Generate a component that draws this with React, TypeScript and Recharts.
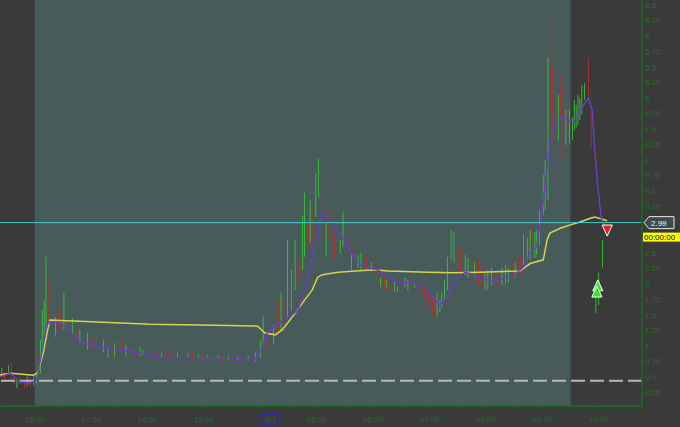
import React from 'react';
import { ComposedChart, Bar, Cell, Line, Scatter, XAxis, YAxis, ReferenceLine, ReferenceArea } from 'recharts';

// t = minutes since 15:23, overnight gap removed (20:00 and 04:00 share t = 277)
// each bar: [t, low, high, up(1) / down(0)]
type BarRow = [number, number, number, number];

const closeBars: BarRow[] = [
  [2, 0.52, 0.65, 1], [5, 0.45, 0.58, 0], [9, 0.58, 0.69, 1], [12, 0.45, 0.73, 0], [15, 0.37, 0.53, 0],
  [18, 0.32, 0.48, 1], [21, 0.37, 0.56, 0], [26, 0.32, 0.45, 0], [29, 0.36, 0.52, 1], [32, 0.34, 0.48, 0],
  [36, 0.36, 0.55, 1],
];

const afterHoursBars: BarRow[] = [
  [39, 0.39, 0.58, 1], [43, 0.56, 1.1, 1], [45, 0.94, 1.58, 1], [47, 1.02, 1.74, 1], [49, 1.1, 2.44, 1],
  [52, 1.42, 2.07, 0], [55, 1.47, 1.74, 0], [59, 1.15, 1.47, 1], [62, 1.26, 1.55, 0], [65, 1.26, 1.61, 0],
  [68, 1.26, 1.86, 1], [72, 1.15, 1.42, 0], [77, 1.18, 1.45, 1], [81, 1.05, 1.26, 0], [85, 1.05, 1.26, 1],
  [89, 0.97, 1.21, 0], [93, 0.94, 1.21, 1], [98, 0.94, 1.16, 0], [104, 0.98, 1.26, 0], [110, 0.9, 1.1, 1],
  [115, 0.81, 0.98, 1], [119, 0.85, 1.06, 0], [122, 0.82, 1.05, 1], [127, 0.84, 1.02, 0], [130, 0.89, 1.15, 0],
  [134, 0.84, 1.02, 1], [138, 0.85, 0.98, 0], [144, 0.82, 0.97, 0], [149, 0.84, 0.97, 1], [152, 0.85, 0.94, 1],
  [157, 0.81, 0.94, 0], [162, 0.82, 0.89, 0], [167, 0.81, 0.9, 0], [172, 0.81, 0.9, 1], [179, 0.82, 0.94, 0],
  [184, 0.81, 0.89, 0], [189, 0.82, 0.9, 1], [195, 0.81, 0.87, 0], [200, 0.81, 0.89, 1], [205, 0.79, 0.9, 0],
  [211, 0.81, 0.87, 1], [216, 0.79, 0.87, 0], [221, 0.79, 0.85, 1], [227, 0.77, 0.85, 0], [232, 0.79, 0.85, 1],
  [237, 0.77, 0.84, 0], [243, 0.77, 0.85, 1], [248, 0.76, 0.84, 0], [253, 0.77, 0.84, 1], [259, 0.76, 0.82, 0],
  [264, 0.76, 0.84, 1], [268, 0.74, 0.82, 0], [272, 0.74, 0.9, 1],
];

const preMarketBars: BarRow[] = [
  [277, 0.81, 1.1, 1], [280, 1.02, 1.47, 1], [283, 0.94, 1.26, 0], [287, 0.94, 1.18, 0], [291, 1.02, 1.34, 1],
  [296, 1.18, 1.74, 0], [299, 1.26, 1.86, 1], [302, 1.34, 1.74, 0], [306, 1.47, 2.71, 1], [310, 1.58, 2.23, 1],
  [314, 1.9, 2.71, 1], [317, 1.98, 2.47, 0], [319, 2.07, 2.39, 0], [322, 2.23, 3.11, 1], [324, 2.44, 3.47, 1],
  [328, 2.66, 2.98, 0], [330, 2.66, 3.35, 1], [333, 2.55, 3.19, 0], [336, 3.08, 3.79, 1], [339, 3.4, 4.03, 1],
  [344, 3.08, 3.68, 0], [347, 2.44, 2.98, 1], [350, 2.71, 3.19, 0], [353, 2.76, 3.08, 0], [356, 2.39, 2.82, 0],
  [359, 2.31, 2.79, 0], [362, 2.5, 2.71, 1], [365, 2.6, 3.16, 1], [368, 2.6, 2.76, 0], [372, 2.44, 2.71, 0],
  [374, 2.23, 2.47, 1], [378, 2.35, 2.63, 0], [381, 2.26, 2.47, 1], [384, 2.23, 2.5, 1], [387, 2.26, 2.47, 0],
  [390, 2.23, 2.44, 0], [395, 2.19, 2.35, 1], [399, 2.15, 2.35, 0], [402, 1.9, 2.23, 0], [405, 1.95, 2.11, 1],
  [409, 1.9, 2.15, 0], [411, 1.95, 2.07, 1], [414, 1.87, 2.07, 0], [417, 1.86, 2.02, 0], [420, 1.87, 2.03, 1],
  [423, 1.86, 1.95, 1], [427, 1.84, 2.0, 0], [431, 1.95, 2.11, 1], [434, 1.9, 2.07, 1], [436, 1.95, 2.07, 0],
  [441, 1.94, 2.02, 1], [446, 1.9, 2.02, 0], [449, 1.81, 1.98, 0], [452, 1.74, 1.95, 0], [456, 1.66, 1.9, 0],
  [460, 1.47, 1.79, 0], [463, 1.45, 1.74, 0], [465, 1.47, 1.86, 1], [468, 1.55, 1.74, 1], [470, 1.63, 1.86, 1],
  [473, 1.74, 2.07, 1], [476, 1.9, 2.44, 1], [480, 2.39, 2.87, 1], [483, 2.35, 2.84, 1], [487, 2.23, 2.63, 0],
  [490, 2.19, 2.55, 0], [495, 2.15, 2.47, 1], [498, 2.1, 2.42, 1], [502, 2.07, 2.35, 0], [505, 2.11, 2.35, 1],
  [509, 1.98, 2.39, 0], [513, 1.95, 2.26, 0], [516, 1.9, 2.19, 1], [519, 1.9, 2.23, 1], [523, 1.97, 2.26, 1],
  [527, 1.98, 2.23, 0], [531, 1.94, 2.19, 0], [534, 1.98, 2.26, 1], [538, 2.0, 2.31, 1], [541, 2.03, 2.26, 1],
  [545, 2.07, 2.35, 0], [548, 2.1, 2.35, 1], [551, 2.15, 2.47, 0], [554, 2.13, 2.42, 0], [557, 2.31, 2.79, 1],
  [561, 2.35, 2.74, 1], [564, 2.39, 2.87, 1], [566, 2.55, 2.95, 0], [569, 2.42, 2.84, 1], [571, 2.47, 2.87, 1],
  [572, 2.82, 3.24, 0], [574, 2.63, 3.19, 1], [578, 3.11, 3.76, 1], [580, 3.19, 4.0, 1], [583, 3.35, 5.65, 1],
  [585, 4.81, 6.26, 0], [588, 4.32, 5.5, 0], [591, 4.32, 5.29, 0], [594, 4.32, 5.05, 1], [596, 4.65, 5.37, 0],
  [599, 4.0, 5.24, 0], [602, 4.24, 4.81, 1], [604, 4.4, 4.97, 0], [606, 4.27, 4.81, 1],
];

const openBars: BarRow[] = [
  [609, 4.32, 4.68, 1], [611, 4.48, 4.97, 1], [613, 4.52, 4.89, 1], [615, 4.57, 5.05, 1], [617, 4.65, 5.0, 1],
  [619, 4.73, 5.21, 1], [622, 4.97, 5.24, 1], [626, 5.05, 5.65, 0], [629, 4.19, 4.81, 0], [634, 1.53, 1.98, 1],
  [637, 1.66, 2.18, 1], [641, 2.27, 2.71, 1],
];

// moving average of the close (purple)
const maLine = [
  { t: 0, v: 0.5 }, { t: 11, v: 0.56 }, { t: 21, v: 0.42 }, { t: 32, v: 0.4 }, { t: 39, v: 0.45 },
  { t: 45, v: 0.94 }, { t: 50, v: 1.34 }, { t: 53, v: 1.39 }, { t: 64, v: 1.37 }, { t: 71, v: 1.31 },
  { t: 82, v: 1.1 }, { t: 96, v: 1.02 }, { t: 106, v: 0.98 }, { t: 128, v: 0.94 }, { t: 149, v: 0.89 },
  { t: 170, v: 0.82 }, { t: 213, v: 0.81 }, { t: 245, v: 0.81 }, { t: 271, v: 0.77 }, { t: 279, v: 0.97 },
  { t: 285, v: 1.23 }, { t: 296, v: 1.37 }, { t: 306, v: 1.45 }, { t: 317, v: 1.58 }, { t: 324, v: 1.9 },
  { t: 328, v: 2.11 }, { t: 333, v: 2.55 }, { t: 338, v: 2.82 }, { t: 343, v: 3.16 }, { t: 353, v: 2.98 },
  { t: 367, v: 2.71 }, { t: 378, v: 2.39 }, { t: 388, v: 2.27 }, { t: 402, v: 2.23 }, { t: 413, v: 2.11 },
  { t: 423, v: 2.02 }, { t: 438, v: 2.02 }, { t: 452, v: 1.95 }, { t: 463, v: 1.74 }, { t: 468, v: 1.66 },
  { t: 476, v: 1.79 }, { t: 484, v: 2.07 }, { t: 495, v: 2.19 }, { t: 505, v: 2.15 }, { t: 516, v: 2.07 },
  { t: 527, v: 2.03 }, { t: 537, v: 2.1 }, { t: 548, v: 2.15 }, { t: 559, v: 2.31 }, { t: 564, v: 2.5 },
  { t: 571, v: 2.6 }, { t: 578, v: 3.35 }, { t: 583, v: 4.0 }, { t: 587, v: 4.43 }, { t: 593, v: 4.64 },
  { t: 599, v: 4.69 }, { t: 610, v: 4.6 }, { t: 620, v: 4.86 }, { t: 626, v: 5.0 }, { t: 630, v: 4.81 },
  { t: 633, v: 4.11 }, { t: 636, v: 3.56 }, { t: 640, v: 3.03 }, { t: 644, v: 2.92 },
];

// vwap (yellow)
const vwapLine = [
  { t: 0, v: 0.53 }, { t: 11, v: 0.56 }, { t: 21, v: 0.55 }, { t: 35, v: 0.53 }, { t: 40, v: 0.56 },
  { t: 46, v: 0.89 }, { t: 50, v: 1.21 }, { t: 53, v: 1.42 }, { t: 85, v: 1.4 }, { t: 160, v: 1.35 },
  { t: 213, v: 1.34 }, { t: 274, v: 1.32 }, { t: 282, v: 1.21 }, { t: 293, v: 1.18 }, { t: 300, v: 1.26 },
  { t: 306, v: 1.37 }, { t: 314, v: 1.53 }, { t: 324, v: 1.74 }, { t: 332, v: 1.9 }, { t: 338, v: 2.11 },
  { t: 343, v: 2.15 }, { t: 360, v: 2.19 }, { t: 378, v: 2.21 }, { t: 399, v: 2.23 }, { t: 413, v: 2.21 },
  { t: 455, v: 2.19 }, { t: 484, v: 2.18 }, { t: 511, v: 2.19 }, { t: 553, v: 2.21 }, { t: 564, v: 2.33 },
  { t: 578, v: 2.39 }, { t: 582, v: 2.71 }, { t: 585, v: 2.82 }, { t: 596, v: 2.9 }, { t: 606, v: 2.95 },
  { t: 617, v: 3.0 }, { t: 628, v: 3.06 }, { t: 633, v: 3.08 }, { t: 646, v: 3.02 },
];

const sellSignals = [{ t: 646, v: 2.87 }];
const buySignals = [{ t: 636, v: 1.97 }, { t: 635, v: 1.87 }];

const lastPrice = 2.99;
const stopLevel = 0.44;
const extendedStart = 37; // 16:00
const extendedEnd = 607; // 09:30

// 3 and 2.75 sit under the price tag / countdown box, so they are not drawn
const priceTicks = [
  0.25, 0.5, 0.75, 1, 1.25, 1.5, 1.75, 2, 2.25, 2.5, 3.25,
  3.5, 3.75, 4, 4.25, 4.5, 4.75, 5, 5.25, 5.5, 5.75, 6, 6.25, 6.5,
];
const timeTicks = [7, 37, 67, 97, 127, 157, 187, 217, 247, 277, 307, 337, 367, 397, 427, 457, 487, 517, 547, 577, 607, 637];
const timeLabels = [
  '', '16:00', '', '17:00', '', '18:00', '', '19:00', '', '9/3', '', '05:00',
  '', '06:00', '', '07:00', '', '08:00', '', '09:00', '', '10:00',
];

const BG = '#3a3a3a';
const SHADE = '#475b5b';
const AXIS = '#1d6b1d';
const AXIS_TEXT = '#237023';
const UP = '#35cc35';
const DOWN = '#c42a2a';

function TimeTick({ x, payload }: any) {
  const label = timeLabels[timeTicks.indexOf(payload.value)];
  if (!label) return null;
  if (label.includes('/')) {
    return (
      <g>
        <rect x={x + 1} y={414} width={18} height={10} fill="none" stroke="#2a2ad0" strokeWidth={1.5} />
        <text x={x + 5} y={422} fill={AXIS_TEXT} fontSize={8}>{label}</text>
      </g>
    );
  }
  return (
    <text x={x} y={422} textAnchor="middle" fill={AXIS_TEXT} fontSize={8}>{label}</text>
  );
}

function PriceTag(props: any) {
  const vb = props.viewBox || {};
  const x = vb.x + vb.width;
  const y = vb.y;
  return (
    <g>
      <polygon
        points={`${x + 2},${y} ${x + 7},${y - 6} ${x + 32},${y - 6} ${x + 32},${y + 6} ${x + 7},${y + 6}`}
        fill="#3d4b4b"
        stroke="#e6e6e6"
        strokeWidth={1}
      />
      <text x={x + 9} y={y + 3} fill="#f2f2f2" fontSize={8}>{lastPrice.toFixed(2)}</text>
      <rect x={x + 1} y={y + 10} width={37} height={9} fill="#ffff00" />
      <text x={x + 2} y={y + 17.5} fill="#000" fontSize={8}>00:00:00</text>
    </g>
  );
}

const SellShape = ({ cx, cy }: any) => (
  <polygon points={`${cx - 5},${cy - 5} ${cx + 5},${cy - 5} ${cx},${cy + 6}`} fill="#e02020" stroke="#ffffff" strokeWidth={1} />
);
const BuyShape = ({ cx, cy }: any) => (
  <polygon points={`${cx - 5},${cy + 5} ${cx + 5},${cy + 5} ${cx},${cy - 6}`} fill="#2ee82e" stroke="#ffffff" strokeWidth={1} />
);

export default function App() {
  const data = [...closeBars, ...afterHoursBars, ...preMarketBars, ...openBars].map(([t, lo, hi, up]) => ({
    t,
    range: [lo, hi],
    up,
  }));

  return (
    <div
      style={{
        position: 'absolute',
        left: 0,
        top: 0,
        width: 680,
        height: 427,
        background: BG,
        fontFamily: '"Liberation Sans", Arial, sans-serif',
      }}
    >
      <ComposedChart width={680} height={427} data={data} margin={{ top: 0, right: 0, bottom: 0, left: 0 }}>
        <ReferenceArea x1={extendedStart} x2={extendedEnd} fill={SHADE} fillOpacity={1} stroke="none" />
        <XAxis
          dataKey="t"
          type="number"
          domain={[0, 683]}
          allowDataOverflow
          ticks={timeTicks}
          interval={0}
          height={21}
          tickSize={4}
          axisLine={{ stroke: AXIS, strokeWidth: 2 }}
          tickLine={{ stroke: AXIS }}
          tick={<TimeTick />}
        />
        <YAxis
          orientation="right"
          type="number"
          width={38}
          domain={[0.032, 6.581]}
          allowDataOverflow
          ticks={priceTicks}
          interval={0}
          tickLine={false}
          tickSize={2}
          tickMargin={1}
          axisLine={{ stroke: AXIS, strokeWidth: 1.5 }}
          tick={{ fill: AXIS_TEXT, fontSize: 8 }}
          tickFormatter={(v: number) => String(v)}
        />
        <ReferenceLine y={stopLevel} stroke="#b8b8b8" strokeWidth={2} strokeDasharray="14 5" />
        <Bar dataKey="range" barSize={2} isAnimationActive={false}>
          {data.map((d, i) => (
            <Cell key={i} fill={d.up ? UP : DOWN} />
          ))}
        </Bar>
        <Line data={vwapLine} dataKey="v" type="linear" stroke="#d6d64a" strokeWidth={1.5} dot={false} isAnimationActive={false} />
        <Line data={maLine} dataKey="v" type="linear" stroke="#6e3cc4" strokeWidth={1.5} dot={false} isAnimationActive={false} />
        <ReferenceLine y={lastPrice} stroke="#3fcfcf" strokeWidth={1} label={<PriceTag />} />
        <Scatter data={buySignals} dataKey="v" shape={<BuyShape />} isAnimationActive={false} />
        <Scatter data={sellSignals} dataKey="v" shape={<SellShape />} isAnimationActive={false} />
      </ComposedChart>
    </div>
  );
}
